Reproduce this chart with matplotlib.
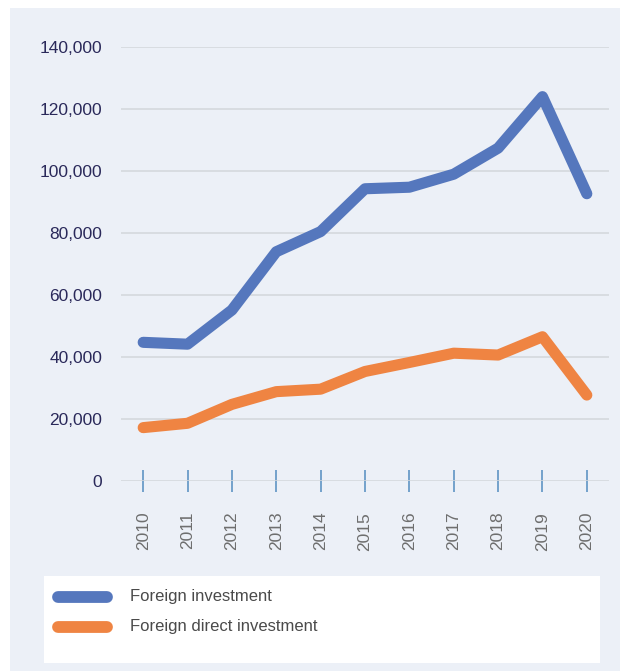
import matplotlib
matplotlib.use("Agg")
import matplotlib.pyplot as plt
from matplotlib.patches import Rectangle
from matplotlib.lines import Line2D

years = [2010, 2011, 2012, 2013, 2014, 2015, 2016, 2017, 2018, 2019, 2020]
foreign_investment = [44800, 44200, 55200, 74000, 80500, 94300, 94800, 99000, 107400, 124000, 92700]
foreign_direct_investment = [17300, 18700, 24800, 28900, 29700, 35400, 38300, 41300, 40700, 46600, 27800]
y_ticks = [0, 20000, 40000, 60000, 80000, 100000, 120000, 140000]
series_labels = ["Foreign investment", "Foreign direct investment"]

BLUE = "#5577BD"
ORANGE = "#EF8442"
PANEL = "#ECF0F7"

plt.rcParams["font.family"] = ["Liberation Sans", "DejaVu Sans"]

W, H = 620, 671
fig = plt.figure(figsize=(W / 100, H / 100), dpi=100)
fig.patch.set_facecolor("white")
fig.patches.append(Rectangle((10 / W, 0), 1 - 10 / W, 1 - 8 / H, transform=fig.transFigure,
                             facecolor=PANEL, edgecolor="none", zorder=-5))

ax = fig.add_axes([121 / W, 1 - 481.3 / H, (609 - 121) / W, (481.3 - 47) / H])
ax.set_zorder(5)
ax.set_facecolor("none")
ax.plot(years, foreign_investment, color=BLUE, lw=8, solid_capstyle="round",
        solid_joinstyle="round", zorder=3, clip_on=False)
ax.plot(years, foreign_direct_investment, color=ORANGE, lw=8, solid_capstyle="round",
        solid_joinstyle="round", zorder=3, clip_on=False)

ax.set_xlim(2009.5, 2020.5)
ax.set_ylim(0, 140000)
ax.set_yticks(y_ticks)
ax.set_yticklabels([f"{v:,}" for v in y_ticks])
ax.set_xticks(years)
ax.set_xticklabels([str(y) for y in years], rotation=90)
for s in ax.spines.values():
    s.set_visible(False)
ax.grid(axis="y", color="#D3D6DB", lw=1.1)
ax.set_axisbelow(True)
ax.tick_params(axis="y", length=0, pad=13.5, labelsize=12.5, labelcolor="#2A295A")
ax.tick_params(axis="x", direction="inout", length=16, width=1.3, color="#6A9BC8",
               pad=14, labelsize=12.5, labelcolor="#6E6E6E")

# legend box
fig.patches.append(Rectangle((44 / W, 1 - 663 / H), (600 - 44) / W, (663 - 576) / H,
                             transform=fig.transFigure, facecolor="white", edgecolor="none", zorder=1))
for i, (lab, col) in enumerate(zip(series_labels, [BLUE, ORANGE])):
    yy = 1 - (597 + 30 * i) / H
    fig.add_artist(Line2D([58 / W, 107 / W], [yy, yy], transform=fig.transFigure, color=col,
                          lw=8.5, solid_capstyle="round", zorder=2))
    fig.text(130 / W, yy, lab, ha="left", va="center", fontsize=12, color="#4A4A4A", zorder=2)

fig.savefig("out.png", dpi=100, facecolor=fig.get_facecolor())
